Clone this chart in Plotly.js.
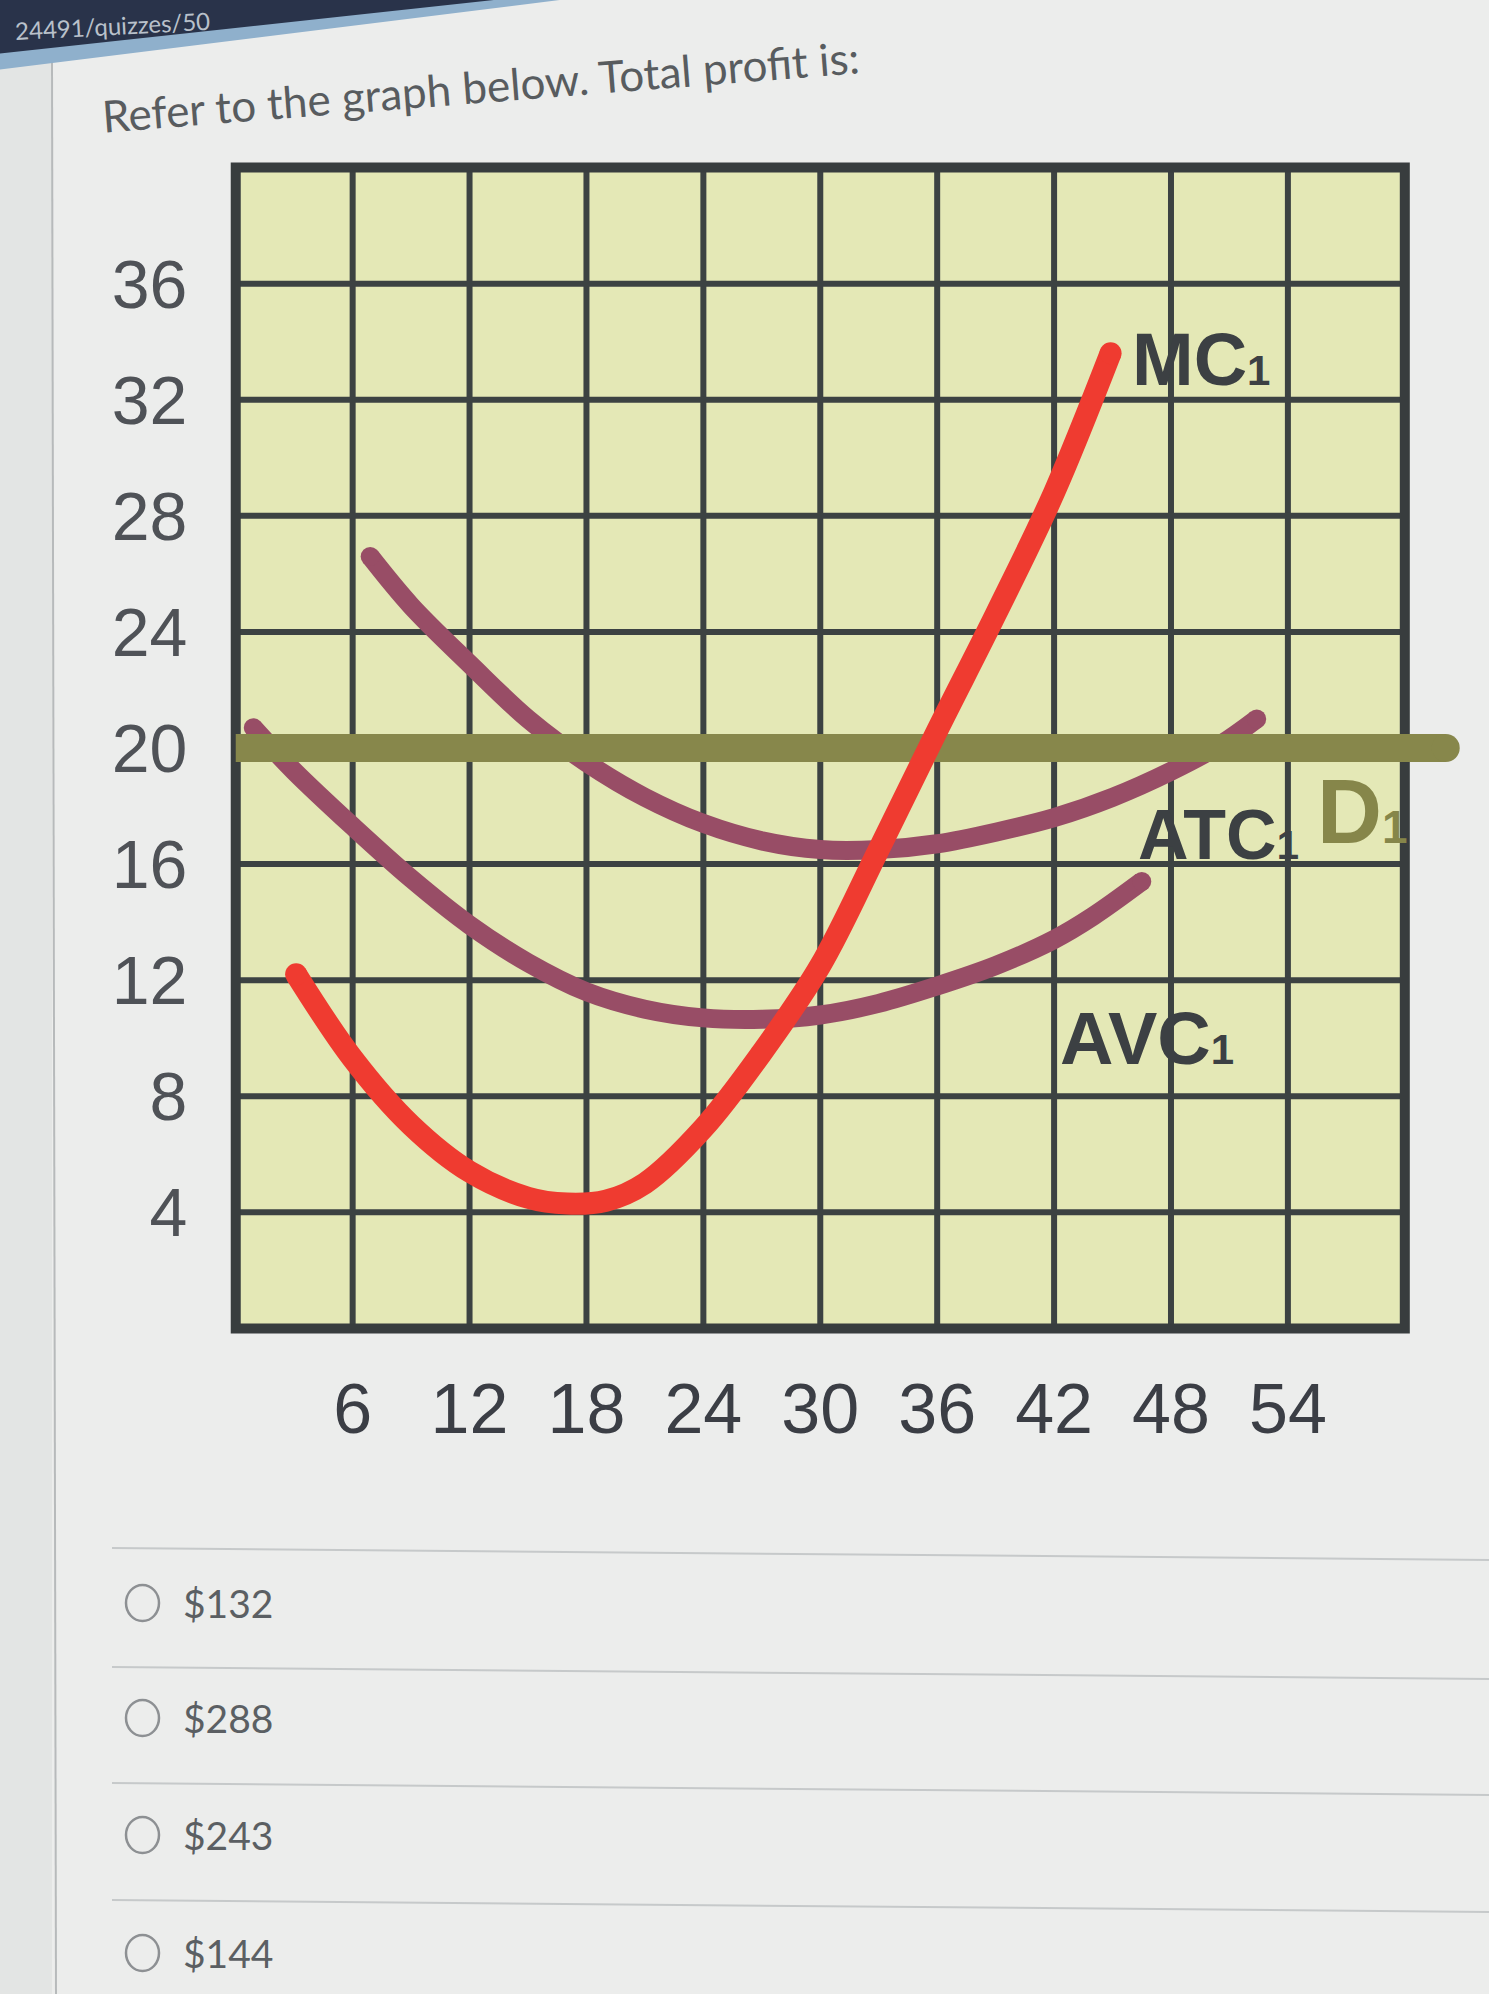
<!DOCTYPE html>
<html>
<head>
<meta charset="utf-8">
<script src="https://cdn.plot.ly/plotly-3.0.1.min.js"></script>
<style>
html, body { margin: 0; padding: 0; background: #ecedec; }
#chart { width: 1489px; height: 1994px; }
</style>
</head>
<body>
<div id="chart"></div>
<script>
// ---------------- data ----------------
const questionText = 'Refer to the graph below. Total profit is:';
const urlText = '24491/quizzes/50';
const quantityTicks = [6, 12, 18, 24, 30, 36, 42, 48, 54];
const priceTicks = [4, 8, 12, 16, 20, 24, 28, 32, 36];
const quantityMax = 60;
const priceMax = 40;

const mcQty  = [3.1, 6, 9, 12, 15, 17, 19, 21, 24, 27, 30, 33, 36, 39, 42, 44.9];
const mcCost = [12.2, 9.3, 7.0, 5.4, 4.5, 4.3, 4.4, 5.0, 6.9, 9.5, 12.5, 16.5, 20.6, 24.6, 28.8, 33.6];

const atcQty  = [6.9, 9, 12, 15, 18, 21, 24, 27, 30, 33, 36, 39, 42, 45, 48, 50.5, 52.4];
const atcCost = [26.6, 24.9, 22.9, 21.0, 19.5, 18.3, 17.4, 16.8, 16.5, 16.5, 16.7, 17.1, 17.6, 18.3, 19.2, 20.1, 21.0];

const avcQty  = [0.9, 3, 6, 9, 12, 15, 18, 21, 24, 27, 30, 33, 36, 39, 42, 44, 46.5];
const avcCost = [20.7, 19.2, 17.3, 15.5, 13.9, 12.6, 11.6, 11.0, 10.7, 10.65, 10.8, 11.2, 11.8, 12.5, 13.4, 14.2, 15.4];

const demandQty   = [0, 62.1];
const demandPrice = [20, 20];

const answerChoices = ['$132', '$288', '$243', '$144'];

// ---------------- page geometry ----------------
const W = 1489, H = 1994;
const M = { l: 226, r: 16, t: 156, b: 654 };
const PW = W - M.l - M.r, PH = H - M.t - M.b;
const px = x => (x - M.l) / PW;
const py = y => (H - M.b - y) / PH;

const COL = {
  mc: '#ef3b30', avg: '#984d66', dem: '#87874b',
  grid: '#3c4242', fill: '#e4e8b6', label: '#3c4043'
};

function capSizes(n, w) {
  return Array.from({ length: n }, (_, i) => (i === 0 || i === n - 1) ? w : 0);
}
function curve(xs, ys, color, width, name) {
  return {
    type: 'scatter', mode: 'lines+markers', name: name,
    x: xs, y: ys,
    line: { color: color, width: width, shape: 'spline', smoothing: 1 },
    marker: { size: capSizes(xs.length, width), color: color, opacity: 1, line: { width: 0 } },
    hoverinfo: 'skip', showlegend: false, cliponaxis: false
  };
}

const traces = [
  curve(atcQty, atcCost, COL.avg, 19, 'ATC1'),
  curve(avcQty, avcCost, COL.avg, 19, 'AVC1'),
  {
    type: 'scatter', mode: 'lines+markers', name: 'D1',
    x: demandQty, y: demandPrice,
    line: { color: COL.dem, width: 28 },
    marker: { size: [0, 28], color: COL.dem, opacity: 1, line: { width: 0 } },
    hoverinfo: 'skip', showlegend: false, cliponaxis: false
  },
  curve(mcQty, mcCost, COL.mc, 22, 'MC1')
];

// ---------------- shapes ----------------
const shapes = [];
// left strip of the page and its rule
shapes.push({ type: 'rect', xref: 'paper', yref: 'paper', x0: px(-5), x1: px(52), y0: py(H + 5), y1: py(40),
  fillcolor: '#e3e5e4', line: { width: 0 }, layer: 'below' });
shapes.push({ type: 'line', xref: 'paper', yref: 'paper', x0: px(52), x1: px(56), y0: py(60), y1: py(H + 5),
  line: { color: '#b7babb', width: 2 }, layer: 'below' });
// dark browser bar at the top
shapes.push({ type: 'path', xref: 'paper', yref: 'paper', layer: 'below',
  path: `M ${px(-5)},${py(-5)} L ${px(600)},${py(-5)} L ${px(-5)},${py(70)} Z`,
  fillcolor: '#8fb0cc', line: { width: 0 } });
shapes.push({ type: 'path', xref: 'paper', yref: 'paper', layer: 'below',
  path: `M ${px(-5)},${py(-5)} L ${px(540)},${py(-5)} L ${px(-5)},${py(54)} Z`,
  fillcolor: '#29334a', line: { width: 0 } });
// plot background
shapes.push({ type: 'rect', xref: 'x', yref: 'y', x0: 0, x1: quantityMax, y0: 0, y1: priceMax,
  fillcolor: COL.fill, line: { width: 0 }, layer: 'below' });
// grid
quantityTicks.forEach(q => shapes.push({ type: 'line', xref: 'x', yref: 'y', x0: q, x1: q, y0: 0, y1: priceMax,
  line: { color: COL.grid, width: 6 }, layer: 'below' }));
priceTicks.forEach(p => shapes.push({ type: 'line', xref: 'x', yref: 'y', x0: 0, x1: quantityMax, y0: p, y1: p,
  line: { color: COL.grid, width: 6 }, layer: 'below' }));
// border
shapes.push({ type: 'rect', xref: 'x', yref: 'y', x0: 0, x1: quantityMax, y0: 0, y1: priceMax,
  line: { color: '#383d3e', width: 10 }, fillcolor: 'rgba(0,0,0,0)', layer: 'below' });

// answer list
const rowCenters = [1603, 1718, 1835, 1953];
const sepLines = [1548, 1667, 1783, 1900];
sepLines.forEach(s => shapes.push({ type: 'line', xref: 'paper', yref: 'paper',
  x0: px(112), x1: px(W + 5), y0: py(s), y1: py(s + 12), line: { color: '#c6c9ca', width: 2 } }));
rowCenters.forEach(c => shapes.push({ type: 'circle', xref: 'paper', yref: 'paper',
  x0: px(126), x1: px(159), y0: py(c + 18), y1: py(c - 18), line: { color: '#8d9093', width: 2.5 } }));

// ---------------- annotations ----------------
const lblFont = (size, color) => ({ family: '"Liberation Sans", Arial, sans-serif', size: size, color: color, weight: 'bold' });
const annotations = [
  { xref: 'paper', yref: 'paper', x: px(112), y: py(26), xanchor: 'center', yanchor: 'middle',
    text: urlText, showarrow: false, textangle: -3,
    font: { family: 'Lato, sans-serif', size: 24, color: '#b9c1cb' } },
  { xref: 'paper', yref: 'paper', x: px(480), y: py(86), text: questionText, showarrow: false, textangle: -4.5,
    xanchor: 'center', yanchor: 'middle', font: { family: 'Lato, sans-serif', size: 44, color: '#585c5f' } },
  { xref: 'x', yref: 'y', x: 45.9, y: 33.4, xanchor: 'left', yanchor: 'middle', showarrow: false,
    text: 'MC<span style="font-size:42px">1</span>', font: lblFont(74, COL.label) },
  { xref: 'x', yref: 'y', x: 46.2, y: 17.0, xanchor: 'left', yanchor: 'middle', showarrow: false,
    text: 'ATC<span style="font-size:40px">1</span>', font: lblFont(70, COL.label) },
  { xref: 'x', yref: 'y', x: 42.2, y: 10.0, xanchor: 'left', yanchor: 'middle', showarrow: false,
    text: 'AVC<span style="font-size:42px">1</span>', font: lblFont(74, COL.label) },
  { xref: 'x', yref: 'y', x: 55.4, y: 17.8, xanchor: 'left', yanchor: 'middle', showarrow: false,
    text: 'D<span style="font-size:46px">1</span>', font: lblFont(90, '#86864a') }
];
answerChoices.forEach((t, i) => annotations.push({ xref: 'paper', yref: 'paper', x: px(181), y: py(rowCenters[i]),
  xanchor: 'left', yanchor: 'middle', showarrow: false, text: t,
  font: { family: 'Lato, sans-serif', size: 39, color: '#5b5f63' } }));

// ---------------- layout ----------------
const layout = {
  width: W, height: H,
  margin: M,
  paper_bgcolor: '#ecedec',
  plot_bgcolor: 'rgba(0,0,0,0)',
  showlegend: false,
  xaxis: {
    range: [-0.5, 63.5], tickvals: quantityTicks, ticktext: quantityTicks.map(String),
    ticks: 'outside', ticklen: 8, tickcolor: 'rgba(0,0,0,0)',
    showgrid: false, zeroline: false, showline: false, automargin: false, fixedrange: true,
    tickfont: { family: '"Liberation Sans", Arial, sans-serif', size: 70, color: '#3b3e45' }
  },
  yaxis: {
    range: [-0.4, 40.4], tickvals: priceTicks, ticktext: priceTicks.map(String),
    ticks: 'outside', ticklen: 24, tickcolor: 'rgba(0,0,0,0)',
    showgrid: false, zeroline: false, showline: false, automargin: false, fixedrange: true,
    tickfont: { family: '"Liberation Sans", Arial, sans-serif', size: 68, color: '#4f5257' }
  },
  shapes: shapes,
  annotations: annotations
};

Plotly.newPlot('chart', traces, layout, { staticPlot: true, displayModeBar: false });
</script>
</body>
</html>
